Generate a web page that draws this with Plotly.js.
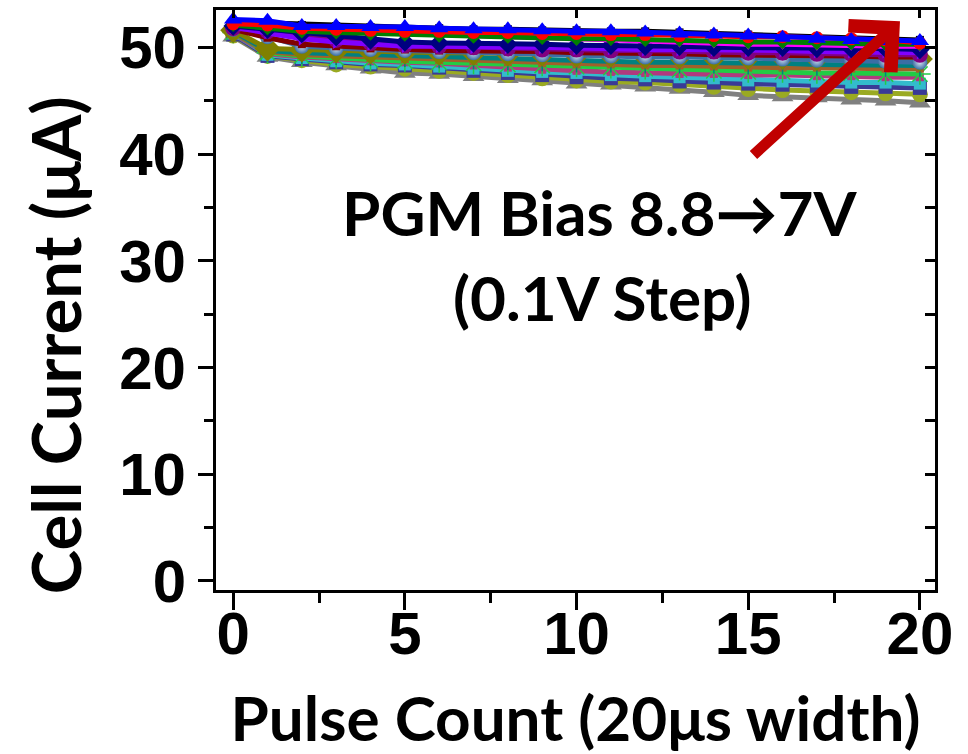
<!DOCTYPE html>
<html>
<head>
<meta charset="utf-8">
<script src="https://cdn.plot.ly/plotly-3.0.1.min.js"></script>
<style>html,body{margin:0;padding:0;background:#fff;}#chart{width:968px;height:754px;}</style>
</head>
<body>
<div id="chart"></div>
<script>
// Pulse count (x)
const pulseCount = [0,1,2,3,4,5,6,7,8,9,10,11,12,13,14,15,16,17,18,19,20];

// Cell current (uA) per PGM bias
const i_7_0 = [52.4,52.3,52.1,52.0,51.9,51.8,51.8,51.7,51.7,51.6,51.6,51.5,51.5,51.4,51.3,51.2,51.1,51.0,50.9,50.8,50.7];
const i_7_1 = [52.6,52.5,52.0,52.0,51.9,51.9,51.8,51.7,51.7,51.6,51.5,51.5,51.4,51.3,51.2,51.1,50.9,50.8,50.7,50.6,50.6];
const i_7_2 = [52.2,52.1,51.8,51.7,51.6,51.5,51.5,51.4,51.4,51.3,51.3,51.2,51.2,51.1,51.1,51.0,51.0,50.9,50.8,50.7,50.4];
const i_7_3 = [52.1,51.8,51.5,51.4,51.3,51.2,51.1,51.0,51.0,50.9,50.8,50.8,50.7,50.7,50.6,50.5,50.5,50.4,50.4,50.3,50.3];
const i_7_4 = [52.3,51.9,51.6,51.5,51.4,51.3,51.2,51.1,51.0,50.9,50.7,50.7,50.6,50.5,50.4,50.3,50.3,50.2,50.2,50.1,50.1];
const i_7_5 = [52.0,51.7,51.3,51.0,50.7,50.5,50.4,50.4,50.3,50.3,50.2,50.2,50.1,50.1,50.0,50.0,50.0,49.9,49.9,49.9,49.8];
const i_7_6 = [51.9,51.4,50.8,50.5,50.3,50.1,50.1,50.0,50.0,50.0,49.9,49.9,49.8,49.8,49.8,49.7,49.7,49.6,49.6,49.6,49.5];
const i_7_7 = [51.8,51.5,51.2,50.7,50.4,50.2,50.1,50.0,49.9,49.8,49.8,49.7,49.7,49.6,49.6,49.5,49.5,49.4,49.4,49.3,49.3];
const i_7_8 = [51.7,50.9,50.3,50.1,49.9,49.8,49.7,49.7,49.6,49.6,49.5,49.5,49.4,49.4,49.3,49.3,49.2,49.2,49.2,49.1,49.1];
const i_7_9 = [51.6,49.9,49.8,49.7,49.6,49.6,49.5,49.5,49.4,49.4,49.3,49.3,49.2,49.2,49.1,49.1,49.1,49.0,49.0,49.0,48.9];
const i_8_0 = [51.7,51.0,50.1,49.9,49.8,49.7,49.6,49.5,49.4,49.3,49.2,49.2,49.1,49.1,49.1,49.0,48.9,48.8,48.8,48.7,48.6];
const i_8_1 = [51.5,49.7,49.5,49.4,49.3,49.2,49.1,49.0,48.9,48.8,48.7,48.7,48.6,48.6,48.6,48.5,48.5,48.4,48.4,48.3,48.3];
const i_8_2 = [51.4,49.6,49.3,49.2,49.0,48.9,48.8,48.7,48.6,48.5,48.4,48.4,48.3,48.3,48.2,48.1,48.1,48.1,48.0,48.0,48.0];
const i_8_3 = [51.4,49.5,49.2,49.0,48.8,48.7,48.6,48.5,48.4,48.3,48.2,48.1,48.0,47.9,47.8,47.7,47.7,47.6,47.6,47.5,47.5];
const i_8_4 = [51.3,49.4,49.1,48.9,48.7,48.6,48.5,48.3,48.1,47.9,47.8,47.7,47.6,47.5,47.5,47.4,47.4,47.3,47.3,47.2,47.2];
const i_8_5 = [51.3,49.3,49.0,48.7,48.5,48.4,48.2,48.0,47.8,47.7,47.6,47.4,47.3,47.2,47.1,46.9,46.8,46.8,46.7,46.7,46.6];
const i_8_6 = [51.2,49.2,48.9,48.6,48.4,48.3,48.1,47.8,47.6,47.4,47.2,47.1,47.0,46.8,46.7,46.6,46.5,46.4,46.3,46.3,46.2];
const i_8_7 = [51.1,49.2,48.8,48.4,48.2,48.0,47.8,47.6,47.4,47.1,46.9,46.8,46.7,46.5,46.3,46.1,46.0,45.9,45.8,45.7,45.6];
const i_8_8 = [51.0,49.1,48.6,48.3,48.0,47.6,47.5,47.3,47.1,46.9,46.6,46.5,46.3,46.1,45.8,45.5,45.4,45.3,45.1,45.0,44.8];

const yTickVals = [0,10,20,30,40,50];
const xTickVals = [0,5,10,15,20];

// series: [name, data, color, symbol, size]  (drawn bottom to top)
const series = [
  ['8.8V', i_8_8, '#808080', 'triangle-up', 19],
  ['8.7V', i_8_7, '#9AAA22', 'circle', 16],
  ['8.6V', i_8_6, '#3A3A96', 'square', 14],
  ['8.5V', i_8_5, '#33BBCC', 'square', 12],
  ['8.4V', i_8_4, '#B03A7E', 'square', 8],
  ['8.3V', i_8_3, '#22CC44', 'asterisk-open', 18],
  ['8.2V', i_8_2, '#A0602A', 'square', 8],
  ['8.1V', i_8_1, '#008080', 'line-ns-open', 16],
  ['7.9V', i_7_9, '#808000', 'diamond', 20],
  ['8.0V', i_8_0, '#3A6EA5', 'circle', 15],
  ['7.8V', i_7_8, '#800000', 'square', 8],
  ['7.7V', i_7_7, '#800080', 'circle', 16],
  ['7.6V', i_7_6, '#8000FF', 'triangle-right', 12],
  ['7.5V', i_7_5, '#000080', 'diamond', 15],
  ['7.4V', i_7_4, '#FF00FF', 'triangle-down', 11],
  ['7.3V', i_7_3, '#007F00', 'diamond', 11],
  ['7.0V', i_7_0, '#000000', 'square', 8],
  ['7.2V', i_7_2, '#FF0000', 'circle', 13],
  ['7.1V', i_7_1, '#0000FF', 'triangle-up', 16]
];

const traces = series.map(s => {
  const m = {symbol: s[3], size: s[4], color: s[2], line: {width: 0, color: s[2]}};
  if (s[3] === 'asterisk-open' || s[3] === 'line-ns-open') m.line = {width: 1.5, color: s[2]};
  if (s[0] === '8.0V') m.gradient = {type: 'radial', color: '#d8e4f0'};
  return {
    x: pulseCount, y: s[1], name: s[0], type: 'scatter', mode: 'lines+markers',
    line: {color: s[2], width: 5}, marker: m, cliponaxis: true, showlegend: false
  };
});
// empty traces to draw the mirrored axes (inward ticks)
traces.push({x: [], y: [], xaxis: 'x2', yaxis: 'y2', showlegend: false, hoverinfo: 'skip'});

const tickFont = {family: 'Liberation Sans, Arial, sans-serif', size: 60, color: '#000', weight: 'bold'};
const titleFont = {family: 'Lato, Open Sans, sans-serif', size: 62, color: '#000', weight: 'bold'};

const xr = [-0.5, 20.44];
const yr = [-0.85, 53.5];

const layout = {
  width: 968, height: 754,
  margin: {l: 216, r: 33, t: 10, b: 164},
  paper_bgcolor: '#fff', plot_bgcolor: '#fff',
  showlegend: false,
  font: {family: 'Liberation Sans, Arial, sans-serif'},
  xaxis: {
    range: xr, tickvals: xTickVals, ticktext: xTickVals.map(String),
    ticks: 'outside', ticklen: 17, tickwidth: 3, tickcolor: '#000',
    minor: {tickvals: [2.5,7.5,12.5,17.5], ticks: 'outside', ticklen: 10, tickwidth: 3, tickcolor: '#000'},
    showline: true, linewidth: 3, linecolor: '#000', mirror: true,
    showgrid: false, zeroline: false,
    tickfont: tickFont, ticklabelstandoff: -28,
    title: {text: 'Pulse Count (20μs width)', font: titleFont, standoff: 46}
  },
  yaxis: {
    range: yr, tickvals: yTickVals, ticktext: yTickVals.map(String),
    ticks: 'outside', ticklen: 15, tickwidth: 3, tickcolor: '#000',
    minor: {tickvals: [5,15,25,35,45], ticks: 'outside', ticklen: 9, tickwidth: 3, tickcolor: '#000'},
    showline: true, linewidth: 3, linecolor: '#000', mirror: true,
    showgrid: false, zeroline: false,
    tickfont: tickFont
  },
  xaxis2: {
    overlaying: 'x', side: 'top', range: xr, tickvals: [0,5,10,15,20], showticklabels: false,
    ticks: 'inside', ticklen: 8, tickwidth: 3, tickcolor: '#000',
    showline: false, showgrid: false, zeroline: false
  },
  yaxis2: {
    overlaying: 'y', side: 'right', range: yr, tickvals: [0,5,10,15,20,25,30,35,40,45,50], showticklabels: false,
    ticks: 'inside', ticklen: 10, tickwidth: 3, tickcolor: '#000',
    showline: false, showgrid: false, zeroline: false
  },
  annotations: [
    // y-axis title
    {x: -0.224, y: 0.422, xref: 'paper', yref: 'paper', text: 'Cell Current (μA)', textangle: -90,
     showarrow: false, xanchor: 'center', yanchor: 'middle',
     font: {family: 'Lato, Open Sans, sans-serif', size: 67, color: '#000', weight: 'bold'}},
    {x: 10.68, y: 34.6, xref: 'x', yref: 'y', text: 'PGM Bias 8.8→7V', showarrow: false,
     font: {family: 'Lato, Open Sans, sans-serif', size: 62, color: '#000', weight: 'bold'}},
    {x: 10.77, y: 26.6, xref: 'x', yref: 'y', text: '(0.1V Step)', showarrow: false,
     font: {family: 'Lato, Open Sans, sans-serif', size: 62, color: '#000', weight: 'bold'}},
    {x: 19.42, y: 52.44, xref: 'x', yref: 'y', ax: -148, ay: 135, text: '', showarrow: true,
     arrowhead: 4, arrowsize: 1.1, arrowwidth: 11, arrowcolor: '#C00000', standoff: 0}
  ]
};

Plotly.newPlot('chart', traces, layout, {displayModeBar: false, staticPlot: true});
</script>
</body>
</html>
